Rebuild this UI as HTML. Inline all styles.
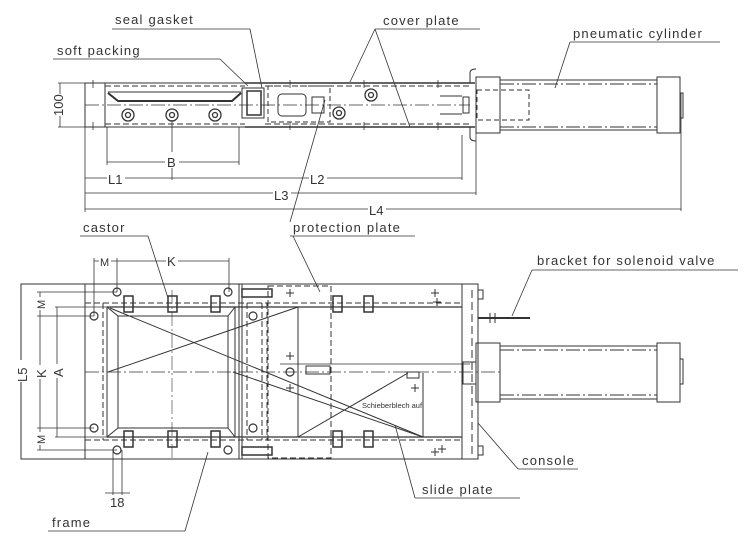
<!DOCTYPE html>
<html><head><meta charset="utf-8"><style>
html,body{margin:0;padding:0;background:#fff}
svg{display:block}
text{font-family:"Liberation Sans",sans-serif;fill:#333;stroke:none;font-weight:normal}
.l{font-size:13px;letter-spacing:1.2px}
.d{font-size:13px}
</style></head><body>
<svg width="750" height="547" viewBox="0 0 750 547" xmlns="http://www.w3.org/2000/svg" stroke="#333" fill="none" stroke-width="1">
<!-- ===== TOP VIEW ===== -->
<rect x="85" y="83" width="20" height="44"/>
<line x1="105" y1="83" x2="245" y2="83"/>
<line x1="105" y1="127" x2="245" y2="127"/>
<line x1="105" y1="86" x2="245" y2="86" stroke-dasharray="6,3"/>
<line x1="105" y1="124" x2="245" y2="124" stroke-dasharray="6,3"/>
<line x1="85" y1="105" x2="470" y2="105" stroke-dasharray="14,3,2,3" stroke-width="0.7"/>
<polyline points="108,93 118,101 232,101 241,93" stroke-width="2"/>
<line x1="108" y1="92" x2="241" y2="92"/>
<rect x="242" y="88" width="22" height="30"/>
<rect x="247" y="91" width="14" height="24" stroke-width="1.5"/>
<line x1="245" y1="83" x2="475" y2="83" stroke-width="1.5"/>
<line x1="245" y1="127" x2="475" y2="127" stroke-width="1.5"/>
<line x1="265" y1="86" x2="470" y2="86" stroke-dasharray="6,3"/>
<line x1="265" y1="124" x2="470" y2="124" stroke-dasharray="6,3"/>
<rect x="268" y="86" width="62" height="36" stroke-dasharray="5,3"/>
<rect x="278" y="94" width="28" height="22" rx="4"/>
<rect x="312" y="97" width="12" height="16"/>
<line x1="440" y1="96" x2="462" y2="96"/><line x1="440" y1="114" x2="462" y2="114"/>
<rect x="463" y="97" width="6" height="16"/>
<path d="M470 83 v-10 q0-4 6-4 M470 127 v10 q0 4 6 4"/>
<rect x="476" y="77" width="24" height="56"/>
<rect x="477" y="90" width="52" height="30" stroke-dasharray="5,3"/>
<rect x="500" y="80" width="157" height="50"/>
<line x1="500" y1="84" x2="657" y2="84" stroke-dasharray="14,3,2,3"/>
<line x1="500" y1="127" x2="657" y2="127" stroke-dasharray="14,3,2,3"/>
<rect x="657" y="77" width="23" height="56"/>
<rect x="680" y="93" width="3" height="25"/>
<g stroke-width="1.3">
<circle cx="128" cy="115" r="6"/><circle cx="128" cy="115" r="2.5"/>
<circle cx="172" cy="115" r="6"/><circle cx="172" cy="115" r="2.5"/>
<circle cx="215" cy="115" r="6"/><circle cx="215" cy="115" r="2.5"/>
<circle cx="339" cy="113" r="6"/><circle cx="339" cy="113" r="2.5"/>
<circle cx="371" cy="95" r="6"/><circle cx="371" cy="95" r="2.5"/>
</g>
<g stroke-width="0.8">
<line x1="93" y1="80" x2="93" y2="88"/><line x1="93" y1="122" x2="93" y2="130"/>
<line x1="290" y1="80" x2="290" y2="88"/><line x1="290" y1="122" x2="290" y2="130"/>
<line x1="364" y1="80" x2="364" y2="88"/><line x1="364" y1="122" x2="364" y2="130"/>
<line x1="438" y1="80" x2="438" y2="88"/><line x1="438" y1="122" x2="438" y2="130"/>
</g>
<!-- top dims -->
<g stroke-width="0.8">
<line x1="58" y1="83" x2="85" y2="83"/><line x1="58" y1="127" x2="85" y2="127"/>
<line x1="60" y1="83" x2="60" y2="127"/>
<line x1="107" y1="127" x2="107" y2="165"/><line x1="239" y1="127" x2="239" y2="165"/>
<line x1="107" y1="162" x2="239" y2="162"/>
<line x1="172" y1="120" x2="172" y2="180"/>
<line x1="85" y1="127" x2="85" y2="212"/>
<line x1="85" y1="178" x2="462" y2="178"/>
<line x1="462" y1="135" x2="462" y2="180"/>
<line x1="85" y1="193" x2="476" y2="193"/>
<line x1="476" y1="133" x2="476" y2="195"/>
<line x1="85" y1="209" x2="681" y2="209"/>
<line x1="681" y1="93" x2="681" y2="211"/>
</g>
<rect x="50" y="94" width="14" height="22" fill="#fff" stroke="none"/>
<text class="d" transform="translate(63,116) rotate(-90)">100</text>
<rect x="165" y="152" width="14" height="16" fill="#fff" stroke="none"/>
<text class="d" x="167" y="167">B</text>
<rect x="107" y="170" width="18" height="16" fill="#fff" stroke="none"/>
<text class="d" x="108" y="184">L1</text>
<rect x="309" y="170" width="18" height="16" fill="#fff" stroke="none"/>
<text class="d" x="310" y="184">L2</text>
<rect x="273" y="185" width="18" height="16" fill="#fff" stroke="none"/>
<text class="d" x="274" y="200">L3</text>
<rect x="368" y="201" width="18" height="16" fill="#fff" stroke="none"/>
<text class="d" x="369" y="215">L4</text>
<!-- labels -->
<g stroke-width="0.8">
<line x1="112" y1="29" x2="250" y2="29"/><line x1="250" y1="29" x2="262" y2="88"/>
<line x1="53" y1="59" x2="220" y2="59"/><line x1="220" y1="59" x2="248" y2="86"/>
<line x1="375" y1="29" x2="480" y2="29"/><line x1="375" y1="29" x2="350" y2="82"/><line x1="375" y1="29" x2="410" y2="127"/>
<line x1="570" y1="42" x2="720" y2="42"/><line x1="570" y1="42" x2="555" y2="88"/>
<line x1="290" y1="236" x2="415" y2="236"/><line x1="290" y1="222" x2="325" y2="100"/><line x1="293" y1="236" x2="320" y2="292"/>
<line x1="80" y1="236" x2="148" y2="236"/><line x1="148" y1="236" x2="168" y2="298"/>
<line x1="48" y1="531" x2="185" y2="531"/><line x1="185" y1="531" x2="208" y2="452"/>
<line x1="415" y1="498" x2="520" y2="498"/><line x1="415" y1="498" x2="395" y2="425"/>
<line x1="518" y1="469" x2="578" y2="469"/><line x1="518" y1="469" x2="478" y2="423"/>
<line x1="532" y1="270" x2="738" y2="270"/><line x1="532" y1="270" x2="512" y2="316"/>
</g>
<text class="l" x="115" y="24">seal gasket</text>
<text class="l" x="57" y="55">soft packing</text>
<text class="l" x="383" y="25">cover plate</text>
<text class="l" x="573" y="38">pneumatic cylinder</text>
<text class="l" x="293" y="232">protection plate</text>
<text class="l" x="83" y="232">castor</text>
<text class="l" x="537" y="265">bracket for solenoid valve</text>
<text class="l" x="522" y="465">console</text>
<text class="l" x="422" y="494">slide plate</text>
<text class="l" x="52" y="527">frame</text>
<!-- ===== BOTTOM VIEW ===== -->
<rect x="21" y="284" width="457" height="175"/>
<line x1="85" y1="284" x2="85" y2="459"/>
<line x1="239" y1="284" x2="239" y2="459"/><line x1="242" y1="284" x2="242" y2="459"/>
<line x1="462" y1="284" x2="462" y2="459"/>
<line x1="472" y1="290" x2="472" y2="455" stroke-dasharray="8,4"/>
<line x1="85" y1="303" x2="462" y2="303" stroke-dasharray="6,3"/>
<line x1="85" y1="440" x2="462" y2="440" stroke-dasharray="6,3"/>
<line x1="107" y1="307" x2="462" y2="307" stroke-width="1.3"/>
<line x1="107" y1="437" x2="462" y2="437" stroke-width="1.3"/>
<line x1="85" y1="372" x2="500" y2="372" stroke-dasharray="14,3,2,3" stroke-width="0.7"/>
<line x1="172" y1="290" x2="172" y2="459" stroke-dasharray="14,3,2,3" stroke-width="0.6"/>
<rect x="107" y="307" width="128" height="130"/>
<rect x="118" y="316" width="110" height="112"/>
<line x1="107" y1="307" x2="118" y2="316"/><line x1="235" y1="307" x2="228" y2="316"/>
<line x1="107" y1="437" x2="118" y2="428"/><line x1="235" y1="437" x2="228" y2="428"/>
<line x1="103" y1="303" x2="103" y2="440" stroke-dasharray="6,3"/>
<line x1="247" y1="303" x2="247" y2="440" stroke-dasharray="6,3"/>
<line x1="262" y1="303" x2="262" y2="440" stroke-dasharray="6,3"/>
<line x1="267" y1="303" x2="267" y2="440" stroke-dasharray="6,3"/>
<rect x="268" y="286" width="63" height="172" stroke-dasharray="6,3"/>
<line x1="298" y1="307" x2="298" y2="437"/>
<line x1="423" y1="373" x2="423" y2="437"/>
<line x1="110" y1="308" x2="423" y2="437"/>
<line x1="108" y1="372" x2="298" y2="307"/>
<line x1="233" y1="372" x2="423" y2="437"/>
<line x1="298" y1="437" x2="408" y2="373"/>
<line x1="280" y1="364" x2="470" y2="364" stroke-width="0.8"/>
<rect x="306" y="366" width="24" height="8"/><rect x="407" y="372" width="12" height="6"/>
<text x="362" y="408" style="font-size:7.5px">Schieberblech auf</text>
<rect x="463" y="362" width="13" height="22"/>
<rect x="476" y="343" width="24" height="59"/>
<rect x="500" y="346" width="157" height="53"/>
<line x1="500" y1="350" x2="657" y2="350" stroke-dasharray="14,3,2,3"/>
<line x1="500" y1="395" x2="657" y2="395" stroke-dasharray="14,3,2,3"/>
<rect x="657" y="343" width="23" height="59"/>
<rect x="680" y="359" width="3" height="25"/>
<line x1="478" y1="318" x2="530" y2="318" stroke-width="2"/>
<line x1="490" y1="313" x2="490" y2="323"/><line x1="495" y1="313" x2="495" y2="323"/>
<rect x="478" y="290" width="5" height="9"/><rect x="478" y="446" width="5" height="9"/>
<g stroke-width="1.2">
<circle cx="117" cy="292" r="4"/><circle cx="117" cy="450" r="4"/>
<circle cx="94" cy="316" r="4"/><circle cx="94" cy="428" r="4"/>
<circle cx="228" cy="292" r="4"/><circle cx="228" cy="450" r="4"/>
<circle cx="253" cy="316" r="4"/><circle cx="253" cy="428" r="4"/>
<circle cx="290" cy="372" r="4"/>
</g>
<g stroke-width="1.5">
<rect x="124" y="296" width="9" height="16"/><rect x="168" y="296" width="9" height="16"/><rect x="211" y="296" width="9" height="16"/>
<rect x="124" y="431" width="9" height="16"/><rect x="168" y="431" width="9" height="16"/><rect x="211" y="431" width="9" height="16"/>
<rect x="333" y="296" width="9" height="16"/><rect x="364" y="296" width="9" height="16"/>
<rect x="333" y="431" width="9" height="16"/><rect x="364" y="431" width="9" height="16"/>
<rect x="242" y="289" width="30" height="8"/><rect x="242" y="447" width="30" height="8"/>
</g>
<path d="M290 289v8M286 293h8M290 352v8M286 356h8M290 384v8M286 388h8M435 289v8M431 293h8M435 448v8M431 452h8M415 384v8M411 388h8M442 445v8M438 449h8M437 298v8M433 302h8"/>
<g stroke-width="0.8">
<line x1="21" y1="284" x2="21" y2="459"/>
<line x1="40" y1="292" x2="40" y2="450"/>
<line x1="37" y1="292" x2="117" y2="292"/><line x1="37" y1="450" x2="117" y2="450"/>
<line x1="37" y1="316" x2="94" y2="316"/><line x1="37" y1="428" x2="94" y2="428"/>
<line x1="57" y1="307" x2="57" y2="437"/>
<line x1="55" y1="307" x2="107" y2="307"/><line x1="55" y1="437" x2="107" y2="437"/>
<line x1="94" y1="258" x2="94" y2="316"/><line x1="117" y1="258" x2="117" y2="292"/><line x1="229" y1="258" x2="229" y2="292"/>
<line x1="94" y1="261" x2="229" y2="261"/>
<line x1="113" y1="450" x2="113" y2="495"/><line x1="122" y1="450" x2="122" y2="495"/>
<line x1="105" y1="493" x2="130" y2="493"/>
</g>
<rect x="14" y="360" width="14" height="22" fill="#fff" stroke="none"/>
<text class="d" transform="translate(27,382) rotate(-90)">L5</text>
<rect x="33" y="365" width="14" height="14" fill="#fff" stroke="none"/>
<text class="d" transform="translate(46,378) rotate(-90)">K</text>
<rect x="50" y="364" width="14" height="14" fill="#fff" stroke="none"/>
<text class="d" transform="translate(63,377) rotate(-90)">A</text>
<rect x="34" y="297" width="12" height="13" fill="#fff" stroke="none"/>
<text transform="translate(45,309) rotate(-90)" style="font-size:11px">M</text>
<rect x="34" y="432" width="12" height="13" fill="#fff" stroke="none"/>
<text transform="translate(45,444) rotate(-90)" style="font-size:11px">M</text>
<rect x="99" y="255" width="12" height="12" fill="#fff" stroke="none"/>
<text x="100" y="266" style="font-size:11px">M</text>
<rect x="166" y="254" width="12" height="14" fill="#fff" stroke="none"/>
<text class="d" x="167" y="266">K</text>
<text class="d" x="110" y="507">18</text>
</svg>
</body></html>
